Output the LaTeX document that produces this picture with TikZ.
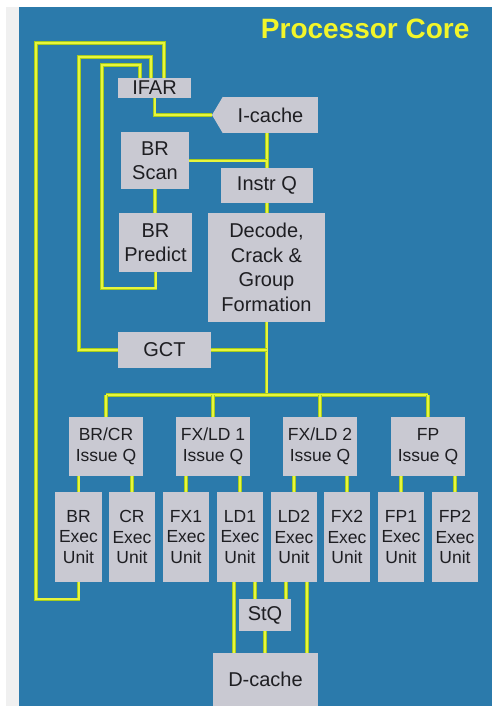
\documentclass[tikz,border=0pt]{standalone}
\usepackage{fontspec}
\setmainfont{Liberation Sans}
\definecolor{panel}{HTML}{2B7AAB}
\definecolor{strip}{HTML}{F0F0F0}
\definecolor{boxgray}{HTML}{C9C9D2}
\definecolor{wireyel}{HTML}{E8F53C}
\definecolor{wiregrn}{HTML}{A6CC1E}
\definecolor{titleyel}{HTML}{F2F52A}
\definecolor{ink}{HTML}{1E1E22}
\tikzset{
  blk/.style={fill=boxgray, inner sep=0pt, align=center, text=ink,
    font=\fontsize{20}{24.5}\selectfont},
  lowblk/.style={blk, font=\fontsize{17.5}{20.5}\selectfont},
  wire/.style={draw=wireyel, line width=2pt,
    preaction={draw=wiregrn, line width=3.4pt}},
}
\begin{document}
\begin{tikzpicture}[x=1pt,y=-1pt]
\useasboundingbox (0,0) rectangle (493,706);
\fill[white] (0,0) rectangle (493,706);
\fill[strip] (6,7) rectangle (19,706);
\fill[panel] (19,7) rectangle (492,706);
\node[anchor=base east, text=titleyel, font=\fontsize{28}{30}\selectfont\bfseries] (title) at (473,39) {Processor Core};

% upper boxes
\node[blk, minimum width=73pt, minimum height=20pt] (ifar) at (154.5,88) {IFAR};
\node[blk, minimum width=95pt, minimum height=36pt] (icache) at (270.5,115) {I-cache};
\coordinate (icachetip) at (212,115);
\fill[boxgray] (icache.north west) -- (icachetip) -- (icache.south west) -- cycle;
\node[blk, minimum width=68pt, minimum height=57pt] (brscan) at (155,160.5) {BR\\Scan};
\node[blk, minimum width=92pt, minimum height=35pt] (instrq) at (267,185.5) {Instr Q};
\node[blk, minimum width=73pt, minimum height=59pt] (brpred) at (155.5,242.5) {BR\\Predict};
\node[blk, minimum width=117pt, minimum height=109pt] (decode) at (266.5,267.5) {Decode,\\Crack \&\\Group\\Formation};
\node[blk, minimum width=93pt, minimum height=36pt] (gct) at (164.5,350) {GCT};

% issue queues
\node[lowblk, minimum width=74pt, minimum height=59pt] (brcrq) at (106,446.5) {BR/CR\\Issue Q};
\node[lowblk, minimum width=74pt, minimum height=59pt] (fxld1q) at (213,446.5) {FX/LD 1\\Issue Q};
\node[lowblk, minimum width=74pt, minimum height=59pt] (fxld2q) at (320,446.5) {FX/LD 2\\Issue Q};
\node[lowblk, minimum width=74pt, minimum height=59pt] (fpq) at (428,446.5) {FP\\Issue Q};

% exec units
\node[lowblk, minimum width=47pt, minimum height=90pt] (brx) at (78.5,537) {BR\\Exec\\Unit};
\node[lowblk, minimum width=46pt, minimum height=90pt] (crx) at (132,537) {CR\\Exec\\Unit};
\node[lowblk, minimum width=46pt, minimum height=90pt] (fx1) at (186,537) {FX1\\Exec\\Unit};
\node[lowblk, minimum width=46pt, minimum height=90pt] (ld1) at (240,537) {LD1\\Exec\\Unit};
\node[lowblk, minimum width=46pt, minimum height=90pt] (ld2) at (294,537) {LD2\\Exec\\Unit};
\node[lowblk, minimum width=46pt, minimum height=90pt] (fx2) at (347,537) {FX2\\Exec\\Unit};
\node[lowblk, minimum width=46pt, minimum height=90pt] (fp1) at (401,537) {FP1\\Exec\\Unit};
\node[lowblk, minimum width=46pt, minimum height=90pt] (fp2) at (455,537) {FP2\\Exec\\Unit};

\node[blk, minimum width=52pt, minimum height=32pt] (stq) at (265,615) {StQ};
\node[blk, minimum width=105pt, minimum height=53pt] (dcache) at (265.5,679.5) {D-cache};

% feedback loops to IFAR
\draw[wire] (brx.south) -- ++(0,17) -| (36,43) -| ([xshift=9.5pt]ifar.north);
\draw[wire] (gct.west) -| (79,57) -| ([xshift=-3.5pt]ifar.north);
\draw[wire] (brpred.south) -- ++(0,16) -| (102,65) -| ([xshift=-14.5pt]ifar.north);

% front end
\draw[wire] (ifar.south) |- (icachetip);
\draw[wire] (instrq.north |- icache.south) -- (instrq.north);
\draw[wire] (brscan.east) -- (brscan.east -| instrq.north);
\draw[wire] (brscan.south) -- (brscan.south |- brpred.north);
\draw[wire] (instrq.south) -- (instrq.south |- decode.north);

% dispatch bus
\coordinate (bus) at (266.5,395);
\draw[wire] (decode.south) -- (bus);
\draw[wire] (gct.east) -- (gct.east -| decode.south);
\draw[wire] (brcrq.north |- bus) -- (fpq.north |- bus);
\draw[wire] (brcrq.north |- bus) -- (brcrq.north);
\draw[wire] (fxld1q.north |- bus) -- (fxld1q.north);
\draw[wire] (fxld2q.north |- bus) -- (fxld2q.north);
\draw[wire] (fpq.north |- bus) -- (fpq.north);

% issue to exec
\draw[wire] (brx.north |- brcrq.south) -- (brx.north);
\draw[wire] (crx.north |- brcrq.south) -- (crx.north);
\draw[wire] (fx1.north |- fxld1q.south) -- (fx1.north);
\draw[wire] (ld1.north |- fxld1q.south) -- (ld1.north);
\draw[wire] (ld2.north |- fxld2q.south) -- (ld2.north);
\draw[wire] (fx2.north |- fxld2q.south) -- (fx2.north);
\draw[wire] (fp1.north |- fpq.south) -- (fp1.north);
\draw[wire] (fp2.north |- fpq.south) -- (fp2.north);

% load/store paths
\draw[wire] ([xshift=-6pt]ld1.south) -- ([xshift=-6pt]ld1.south |- dcache.north);
\draw[wire] ([xshift=15pt]ld1.south) -- ([xshift=15pt]ld1.south |- stq.north);
\draw[wire] ([xshift=-8pt]ld2.south) -- ([xshift=-8pt]ld2.south |- stq.north);
\draw[wire] ([xshift=13pt]ld2.south) -- ([xshift=13pt]ld2.south |- dcache.north);
\draw[wire] (stq.south) -- (stq.south |- dcache.north);
\end{tikzpicture}
\end{document}
